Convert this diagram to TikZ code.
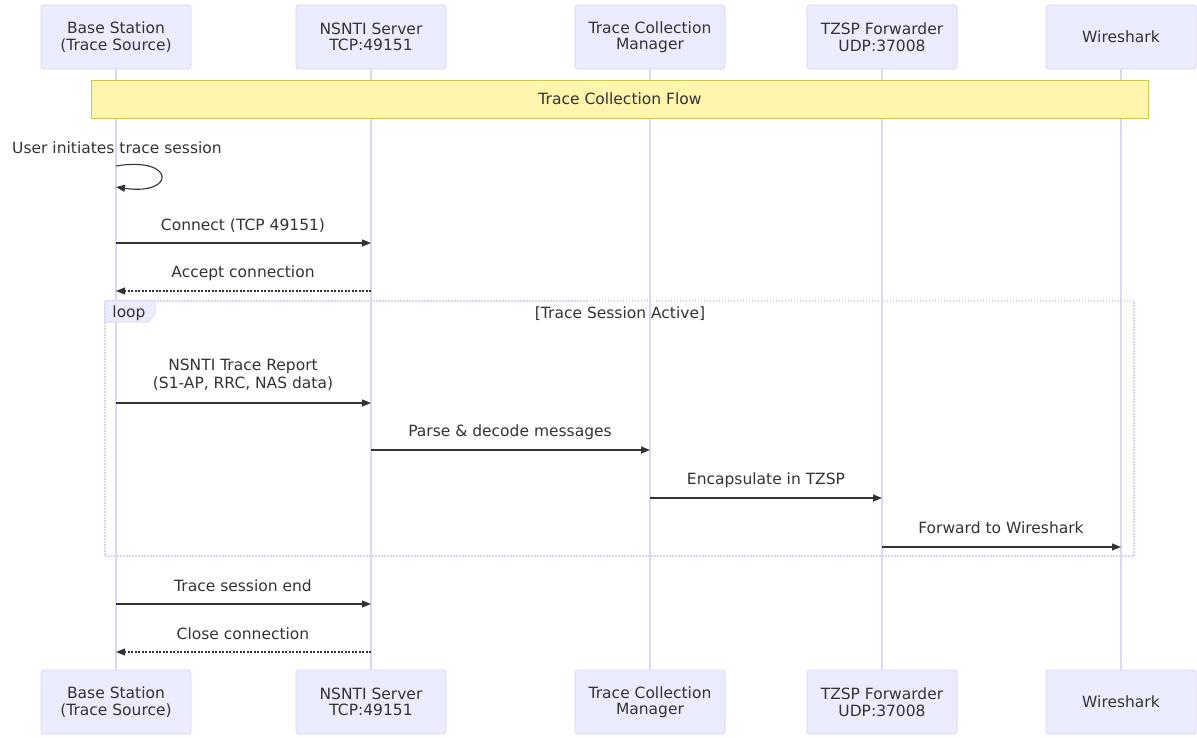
\documentclass[tikz,border=0pt]{standalone}
\usepackage{fontspec}
\setmainfont{DejaVu Sans}
\usetikzlibrary{arrows.meta}
\definecolor{actfill}{HTML}{ECECFF}
\definecolor{actline}{HTML}{D9D2F4}
\definecolor{lifeln}{HTML}{DCD6F6}
\definecolor{notefill}{HTML}{FFF5AD}
\definecolor{noteline}{HTML}{C8C850}
\definecolor{txt}{HTML}{333333}
\definecolor{arrowc}{HTML}{333333}
\begin{document}
\begin{tikzpicture}[x=1pt,y=-1pt,
  actor/.style={draw=actline, fill=actfill, rounded corners=3pt, minimum width=150pt, minimum height=64pt, align=center, font=\fontsize{15.5}{16.5}\selectfont, text=txt, line width=0.8pt, inner sep=0pt},
  life/.style={draw=lifeln, line width=1.2pt},
  msg/.style={draw=arrowc, line width=1.1pt, -{Triangle[length=9pt,width=7pt]}},
  reply/.style={msg, dash pattern=on 2pt off 1.5pt},
  lbl/.style={font=\fontsize{15.5}{18}\selectfont, text=txt, align=center, inner sep=0pt},
  frame/.style={draw=actline, line width=1.2pt, dash pattern=on 1.5pt off 1.5pt}]
\useasboundingbox (0,0) rectangle (1197,738);

% actors top
\node[actor] (a1) at (116,37) {Base Station\\(Trace Source)};
\node[actor] (a2) at (371,37) {NSNTI Server\\TCP:49151};
\node[actor] (a3) at (650,37) {Trace Collection\\Manager};
\node[actor] (a4) at (882,37) {TZSP Forwarder\\UDP:37008};
\node[actor] (a5) at (1121,37) {Wireshark};
% actors bottom
\node[actor] (b1) at (116,702) {Base Station\\(Trace Source)};
\node[actor] (b2) at (371,702) {NSNTI Server\\TCP:49151};
\node[actor] (b3) at (650,702) {Trace Collection\\Manager};
\node[actor] (b4) at (882,702) {TZSP Forwarder\\UDP:37008};
\node[actor] (b5) at (1121,702) {Wireshark};

% lifelines
\foreach \i in {1,...,5} {\draw[life] (a\i.south) -- (b\i.north);}

% note
\draw[fill=notefill, draw=noteline, line width=0.8pt] (91,80) rectangle (1148,118);
\node[lbl] (note) at (620,99) {Trace Collection Flow};

% self message
\node[lbl] (selfl) at (117,148) {User initiates trace session};
\draw[msg] (a1.south |- 0,166) .. controls (176,156) and (176,196) .. (a1.south |- 0,187);

% connect
\node[lbl] (m1) at (243,226) {Connect (TCP 49151)};
\draw[msg] (a1.south |- 0,243) -- (a2.south |- 0,243);
\node[lbl] (m2) at (243,273) {Accept connection};
\draw[reply] (a2.south |- 0,291) -- (a1.south |- 0,291);

% loop frame
\draw[frame] (105,301) rectangle (1134,556);
\draw[fill=actfill, draw=actline, line width=0.8pt] (105,301) -- (155,301) -- (155,314) -- (148,322) -- (105,322) -- cycle;
\node[lbl] (looplbl) at (129,313) {loop};
\node[lbl] (loopcond) at (620,314) {[Trace Session Active]};

\node[lbl] (m3) at (243,375) {NSNTI Trace Report\\(S1-AP, RRC, NAS data)};
\draw[msg] (a1.south |- 0,403) -- (a2.south |- 0,403);
\node[lbl] (m4) at (510,432) {Parse \& decode messages};
\draw[msg] (a2.south |- 0,450) -- (a3.south |- 0,450);
\node[lbl] (m5) at (766,480) {Encapsulate in TZSP};
\draw[msg] (a3.south |- 0,498) -- (a4.south |- 0,498);
\node[lbl] (m6) at (1001,528) {Forward to Wireshark};
\draw[msg] (a4.south |- 0,547) -- (a5.south |- 0,547);

\node[lbl] (m7) at (243,586) {Trace session end};
\draw[msg] (a1.south |- 0,604) -- (a2.south |- 0,604);
\node[lbl] (m8) at (243,634) {Close connection};
\draw[reply] (a2.south |- 0,652) -- (a1.south |- 0,652);
\end{tikzpicture}
\end{document}
